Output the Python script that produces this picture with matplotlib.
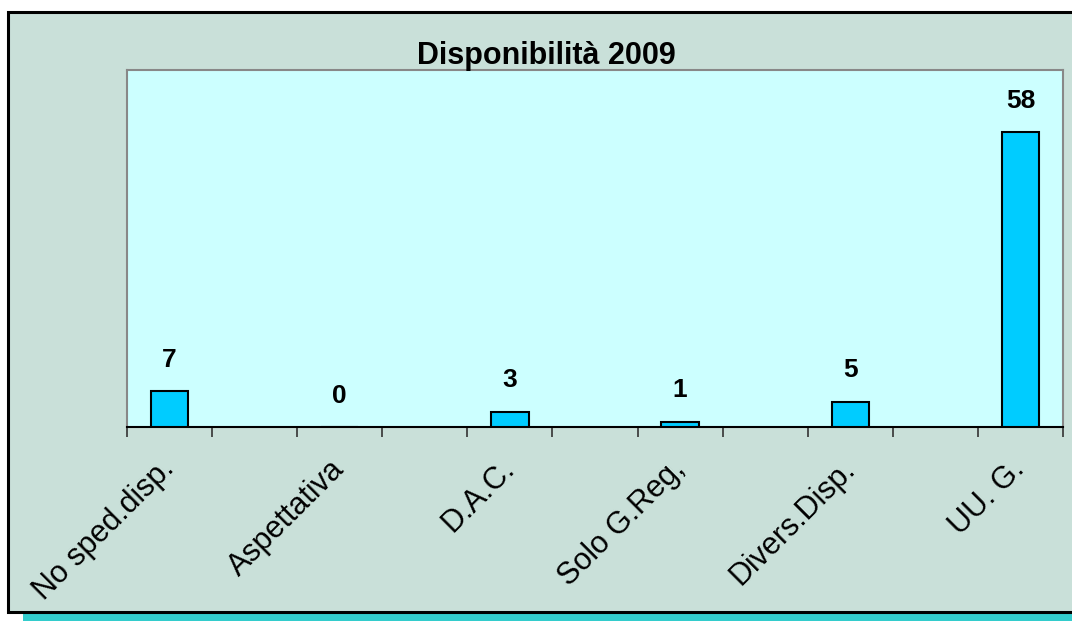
import matplotlib
matplotlib.use("Agg")
import matplotlib.pyplot as plt
from matplotlib.patches import Rectangle
import numpy as np

plt.rcParams['font.family'] = ['Liberation Sans', 'DejaVu Sans']

title = "Disponibilità 2009"
categories = ["No sped.disp.", "Aspettativa", "D.A.C.", "Solo G.Reg,", "Divers.Disp.", "UU. G."]
values = [7, 0, 3, 1, 5, 58]

W, H = 1072, 621
fig = plt.figure(figsize=(W / 100, H / 100), dpi=100)
fig.patch.set_facecolor('white')

# outer chart frame with shadow
fig.patches.append(Rectangle((23 / W, 0), 1.2, (621 - 612) / H, transform=fig.transFigure,
                             facecolor='#33CCCC', edgecolor='none', zorder=0))
fig.patches.append(Rectangle((8 / W, (621 - 612) / H), 1.2, (612 - 12) / H, transform=fig.transFigure,
                             facecolor='#C9E0D9', edgecolor='black', linewidth=2.2, zorder=1))

ax = fig.add_axes([127 / W, 1 - 427 / H, (1063 - 127) / W, (427 - 70) / H])
ax.set_zorder(5)
ax.set_facecolor('#CCFFFF')

pos = np.arange(len(categories)) * 2
ax.bar(pos, values, width=0.44, color='#00CCFF', edgecolor='black', linewidth=1.5, zorder=3)

for x, v in zip(pos, values):
    ax.annotate(str(v), (x, v), xytext=(0, 14), textcoords='offset points',
                ha='center', va='bottom', fontsize=19, fontweight='bold')

ax.set_xlim(-0.5, 2 * len(categories) - 1.5)
ax.set_ylim(0, 70.2)
ax.set_yticks([])
ax.set_xticks(np.arange(-0.5, 2 * len(categories) - 1, 1))
ax.set_xticklabels([])
ax.tick_params(axis='x', which='major', direction='out', length=7.5, width=1.2, color='#333333')
ax.set_xticks(pos, minor=True)
ax.set_xticklabels(categories, minor=True, rotation=45, ha='right', va='center',
                   rotation_mode='anchor', fontsize=22)
ax.tick_params(axis='x', which='minor', length=0, pad=27)

for s in ['left', 'top', 'right']:
    ax.spines[s].set_color('#888888')
    ax.spines[s].set_linewidth(1.5)
ax.spines['bottom'].set_color('black')
ax.spines['bottom'].set_linewidth(1.5)

fig.text(546 / W, 1 - 56 / H, title, ha='center', va='center', fontsize=22, fontweight='bold',
         zorder=6)

fig.savefig('out.png', dpi=100)
